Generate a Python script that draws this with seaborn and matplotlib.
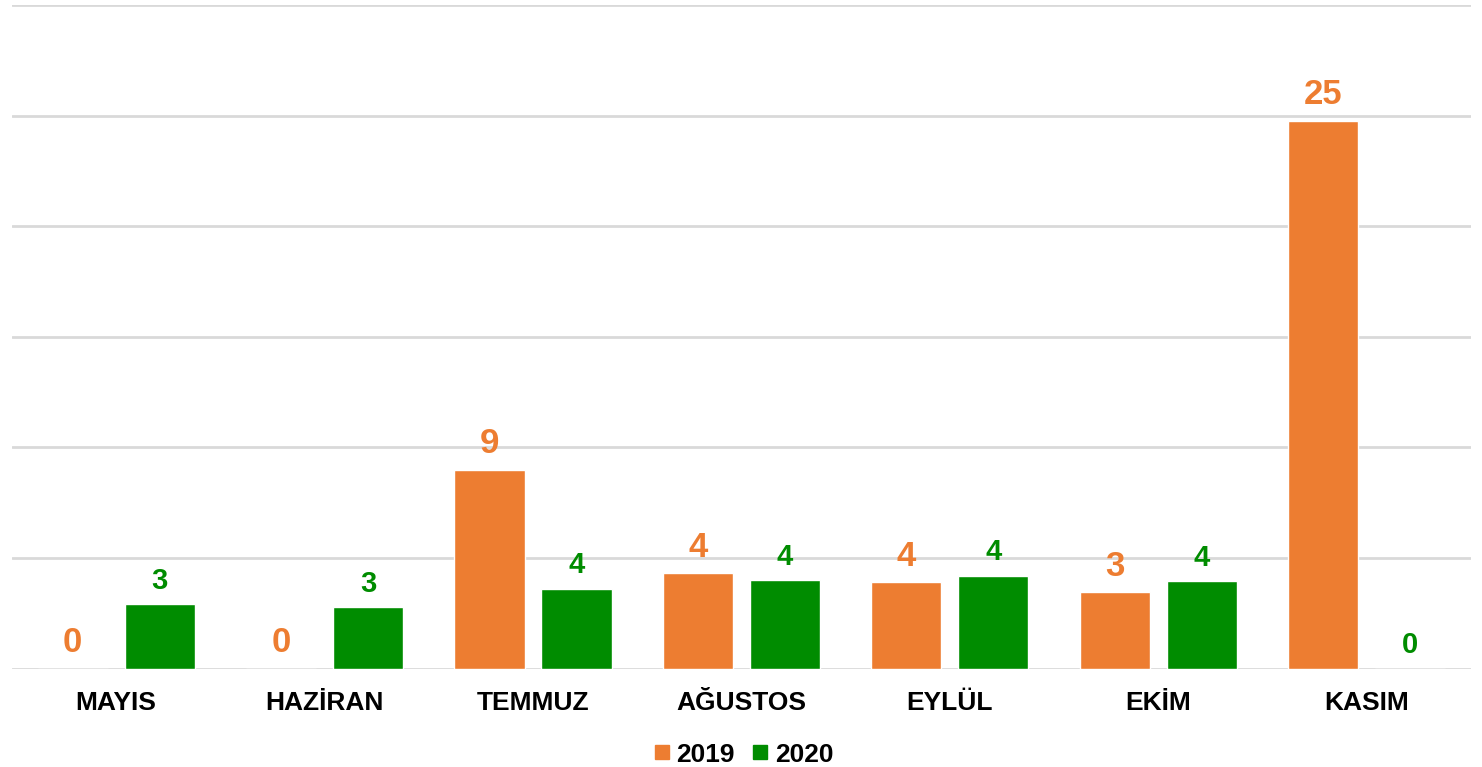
import matplotlib
matplotlib.use("Agg")
import matplotlib.pyplot as plt
import seaborn as sns
import pandas as pd
from matplotlib.lines import Line2D

months = ["MAYIS", "HAZİRAN", "TEMMUZ", "AĞUSTOS", "EYLÜL", "EKİM", "KASIM"]
series_names = ["2019", "2020"]
values_2019 = [0.0, 0.0, 8.97, 4.3, 3.9, 3.44, 24.75]
values_2020 = [2.9, 2.77, 3.6, 3.99, 4.2, 3.94, 0.0]
colors = {"2019": "#ED7D31", "2020": "#008C00"}

df = pd.DataFrame({
    "month": months * 2,
    "year": [series_names[0]] * len(months) + [series_names[1]] * len(months),
    "value": values_2019 + values_2020,
})

sns.set_theme(style="white")
plt.rcParams["font.family"] = ["Liberation Sans", "DejaVu Sans"]
plt.rcParams["text.color"] = "black"

fig = plt.figure(figsize=(14.82, 7.67), dpi=100)
ax = fig.add_axes([0.008, 0.1284, 0.9846, 0.8651])

sns.barplot(data=df, x="month", y="value", hue="year", order=months,
            hue_order=series_names, palette=colors, width=0.835, gap=0.195,
            saturation=1, ax=ax, legend=False, errorbar=None)

ax.set_ylim(0, 30)
ax.set_xlim(-0.5, len(months) - 0.5)
ax.set_yticks([0, 5, 10, 15, 20, 25, 30])
ax.set_yticklabels([])
ax.yaxis.grid(True, color="#D9D9D9", linewidth=2)
ax.set_axisbelow(True)
for s in ax.spines.values():
    s.set_visible(False)
ax.tick_params(axis="both", length=0)
ax.tick_params(axis="x", pad=16)
ax.set_xlabel("")
ax.set_ylabel("")
for lbl in ax.get_xticklabels():
    lbl.set_fontsize(19)
    lbl.set_fontweight("bold")
    lbl.set_color("black")

containers = ax.containers
ax.bar_label(containers[0], fmt="%.0f", padding=7, fontsize=25,
             fontweight="bold", color=colors["2019"])
ax.bar_label(containers[1], fmt="%.0f", padding=7, fontsize=21,
             fontweight="bold", color=colors["2020"])

handles = [Line2D([0], [0], marker="s", linestyle="", markersize=10,
                  markerfacecolor=colors[n], markeredgecolor=colors[n])
           for n in series_names]
leg = fig.legend(handles, series_names, loc="center", bbox_to_anchor=(0.5, 0.016),
                 ncol=2, frameon=False, handletextpad=0.05, columnspacing=0.45,
                 prop={"size": 19, "weight": "bold"}, handlelength=1.0)
for t in leg.get_texts():
    t.set_color("black")

fig.savefig("out.png", dpi=100, facecolor="white")
